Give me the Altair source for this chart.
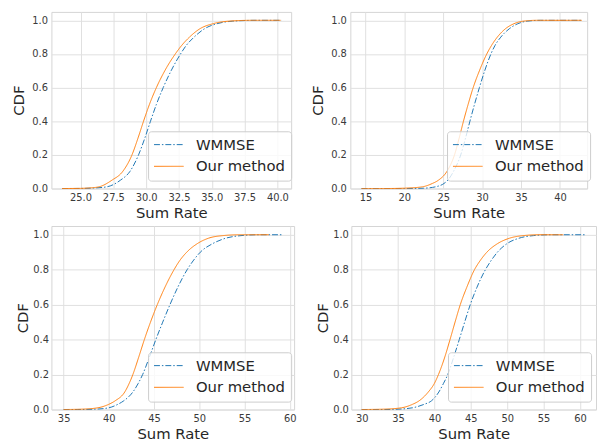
import altair as alt
import pandas as pd

SERIES = ["WMMSE", "Our method"]
COLORS = ["#1f77b4", "#ff7f0e"]
DASHES = [[6, 2, 1.5, 2], [1, 0]]

# ---- Panel 1 (top-left) ----
p1_w_x = [23.6, 25.0, 26.0, 27.0, 28.05, 28.75, 29.42, 29.9, 30.33, 30.78, 31.3, 31.9, 32.62, 33.05, 33.65, 34.45, 35.4, 36.6, 38.3, 40.3]
p1_w_y = [0.0, 0.0005, 0.003, 0.01, 0.05, 0.1, 0.2, 0.3, 0.4, 0.5, 0.6, 0.7, 0.8, 0.85, 0.9, 0.95, 0.98, 0.995, 1.0, 1.0]
p1_o_x = [23.6, 25.0, 25.6, 26.4, 27.4, 28.2, 28.92, 29.38, 29.8, 30.25, 30.78, 31.42, 32.22, 32.7, 33.3, 34.1, 35.1, 36.3, 38.0, 40.25]
p1_o_y = [0.0, 0.001, 0.003, 0.01, 0.05, 0.1, 0.2, 0.3, 0.4, 0.5, 0.6, 0.7, 0.8, 0.85, 0.9, 0.95, 0.98, 0.995, 1.0, 1.0]

# ---- Panel 2 (top-right) ----
p2_w_x = [14.5, 20.0, 22.5, 24.0, 25.1, 25.6, 26.3, 27.25, 27.87, 28.43, 29.02, 29.65, 30.33, 31.13, 31.65, 32.4, 33.5, 34.6, 35.8, 37.5, 42.8]
p2_w_y = [0.0, 0.0, 0.002, 0.01, 0.03, 0.05, 0.1, 0.2, 0.3, 0.4, 0.5, 0.6, 0.7, 0.8, 0.85, 0.9, 0.95, 0.98, 0.995, 1.0, 1.0]
p2_o_x = [14.5, 17.5, 20.0, 22.3, 23.6, 24.4, 25.45, 26.45, 27.05, 27.6, 28.2, 28.85, 29.65, 30.6, 31.2, 31.95, 33.0, 34.1, 35.3, 37.0, 42.8]
p2_o_y = [0.0, 0.0, 0.002, 0.01, 0.03, 0.05, 0.1, 0.2, 0.3, 0.4, 0.5, 0.6, 0.7, 0.8, 0.85, 0.9, 0.95, 0.98, 0.995, 1.0, 1.0]

# ---- Panel 3 (bottom-left) ----
p3_w_x = [35.0, 36.5, 38.5, 40.0, 41.0, 41.65, 42.65, 43.25, 43.73, 44.48, 45.19, 45.95, 46.75, 47.62, 48.65, 49.3, 50.1, 51.5, 52.9, 54.6, 56.5, 59.2]
p3_w_y = [0.0, 0.0, 0.002, 0.01, 0.03, 0.05, 0.1, 0.15, 0.2, 0.3, 0.4, 0.5, 0.6, 0.7, 0.8, 0.85, 0.9, 0.95, 0.98, 0.995, 1.0, 1.0]
p3_o_x = [35.0, 37.0, 38.8, 40.0, 40.7, 41.75, 42.25, 42.65, 43.3, 43.92, 44.6, 45.35, 46.2, 47.2, 47.8, 48.6, 49.8, 51.0, 52.6, 54.5, 57.67]
p3_o_y = [0.0, 0.002, 0.01, 0.03, 0.05, 0.1, 0.15, 0.2, 0.3, 0.4, 0.5, 0.6, 0.7, 0.8, 0.85, 0.9, 0.95, 0.98, 0.995, 1.0, 1.0]

# ---- Panel 4 (bottom-right) ----
p4_w_x = [30.0, 33.0, 35.0, 37.0, 38.6, 39.6, 40.6, 41.25, 41.83, 42.65, 43.41, 44.15, 44.92, 45.85, 47.0, 47.75, 48.65, 50.0, 51.6, 53.6, 56.0, 60.72]
p4_w_y = [0.0, 0.0, 0.002, 0.01, 0.03, 0.05, 0.1, 0.15, 0.2, 0.3, 0.4, 0.5, 0.6, 0.7, 0.8, 0.85, 0.9, 0.95, 0.98, 0.995, 1.0, 1.0]
p4_o_x = [30.0, 33.0, 35.5, 37.0, 37.9, 39.15, 40.0, 40.55, 41.42, 42.14, 42.83, 43.55, 44.45, 45.5, 46.25, 47.2, 48.7, 50.3, 52.2, 54.5, 57.7]
p4_o_y = [0.0, 0.002, 0.01, 0.03, 0.05, 0.1, 0.15, 0.2, 0.3, 0.4, 0.5, 0.6, 0.7, 0.8, 0.85, 0.9, 0.95, 0.98, 0.995, 1.0, 1.0]

Y_TICKS = [0.0, 0.2, 0.4, 0.6, 0.8, 1.0]


def make_df(wx, wy, ox, oy):
    rows = [{"x": a, "cdf": b, "series": "WMMSE", "k": 0} for a, b in zip(wx, wy)]
    rows += [{"x": a, "cdf": b, "series": "Our method", "k": 1} for a, b in zip(ox, oy)]
    return pd.DataFrame(rows)


def panel(df, xdom, xticks, fmt, w, h, lpad, tpad, lx):
    leg = alt.Legend(title=None, orient="none", legendX=w - lx, legendY=h - 58)
    return alt.Chart(df).mark_line(strokeWidth=1, interpolate="monotone").encode(
        x=alt.X("x:Q", scale=alt.Scale(domain=xdom, nice=False, zero=False),
                axis=alt.Axis(values=xticks, format=fmt, title="Sum Rate")),
        y=alt.Y("cdf:Q", scale=alt.Scale(domain=[0, 1.05], nice=False),
                axis=alt.Axis(values=Y_TICKS, format=".1f", title="CDF",
                              labelPadding=lpad, titlePadding=tpad)),
        color=alt.Color("series:N", scale=alt.Scale(domain=SERIES, range=COLORS), legend=leg),
        strokeDash=alt.StrokeDash("series:N", scale=alt.Scale(domain=SERIES, range=DASHES), legend=leg),
        detail="k:N",
    ).properties(width=w, height=h)


c1 = panel(make_df(p1_w_x, p1_w_y, p1_o_x, p1_o_y), [22.78, 41.05],
           [25.0, 27.5, 30.0, 32.5, 35.0, 37.5, 40.0], ".1f", 243, 179, 4, 5, 145)
c2 = panel(make_df(p2_w_x, p2_w_y, p2_o_x, p2_o_y), [13.06, 43.5],
           [15, 20, 25, 30, 35, 40], "d", 240, 179, 4, 5, 142)
c3 = panel(make_df(p3_w_x, p3_w_y, p3_o_x, p3_o_y), [33.65, 60.47],
           [35, 40, 45, 50, 55, 60], "d", 246, 186, 3, 2, 148)
c4 = panel(make_df(p4_w_x, p4_w_y, p4_o_x, p4_o_y), [28.58, 62.2],
           [30, 35, 40, 45, 50, 55, 60], "d", 248, 186, 3, 2, 150)

top = alt.hconcat(c1, c2, spacing=18).resolve_scale(color="independent", strokeDash="independent")
bottom = alt.hconcat(c3, c4, spacing=18).resolve_scale(color="independent", strokeDash="independent")

chart = alt.vconcat(top, bottom, spacing=4).resolve_scale(
    color="independent", strokeDash="independent"
).properties(
    padding={"left": 3, "top": 0, "right": 0, "bottom": 0}
).configure(
    font="DejaVu Sans",
    background="white",
).configure_view(
    stroke="#d4d4d4", strokeWidth=1,
).configure_axis(
    labelFont="DejaVu Sans", labelFontSize=10, labelColor="#3a3a3a",
    titleFont="DejaVu Sans", titleFontSize=15, titleFontWeight="normal", titleColor="#262626",
    ticks=False, domain=False, gridColor="#e0e0e0", gridWidth=1,
    labelPadding=4, titlePadding=3,
).configure_legend(
    fillColor="rgba(255,255,255,0.8)", strokeColor="#cccccc", cornerRadius=3,
    padding=6, labelFont="DejaVu Sans", labelFontSize=15, labelColor="#262626",
    symbolType="M-3,0L3,0", symbolSize=100, symbolStrokeWidth=1, symbolOffset=7.5,
    rowPadding=6, labelOffset=20,
)

chart.save("out.html", embed_options={"renderer": "svg", "actions": False})
